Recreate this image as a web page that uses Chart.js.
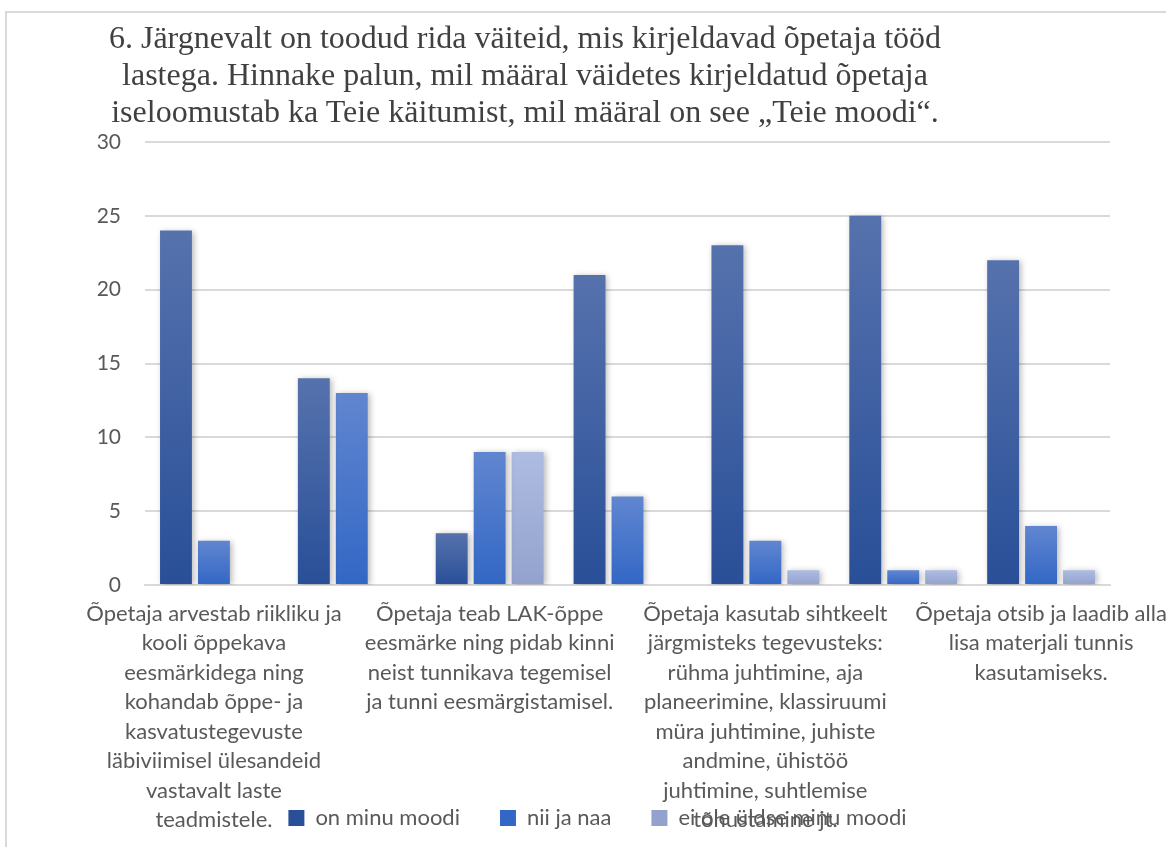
<!DOCTYPE html>
<html>
<head>
<meta charset="utf-8">
<script src="https://cdn.jsdelivr.net/npm/chart.js@4.4.1/dist/chart.umd.min.js"></script>
<style>
  html, body { margin: 0; padding: 0; background: #fff; }
  #wrap { position: relative; width: 1166px; height: 847px; overflow: hidden; }
  #frame { position: absolute; left: 5px; top: 11px; width: 1300px; height: 900px;
           border-left: 2px solid #D9D9D9; border-top: 2px solid #D9D9D9; }
  #title { position: absolute; left: 0; top: 19px; width: 1050px; text-align: center;
           font-family: "Liberation Serif", serif; font-size: 32px; line-height: 37px; color: #404040; }
  canvas { position: absolute; left: 0; top: 0; }
</style>
</head>
<body>
<div id="wrap">
  <div id="frame"></div>
  <canvas id="charts" width="1166" height="847"></canvas>
  <div id="title">6. Järgnevalt on toodud rida väiteid, mis kirjeldavad õpetaja tööd<br>lastega. Hinnake palun, mil määral väidetes kirjeldatud õpetaja<br>iseloomustab ka Teie käitumist, mil määral on see „Teie moodi“.</div>
</div>
<script>
// categories (only every other label is readable in the picture)
const categories = [
  ['Õpetaja arvestab riikliku ja', 'kooli õppekava', 'eesmärkidega ning', 'kohandab õppe- ja',
   'kasvatustegevuste', 'läbiviimisel ülesandeid', 'vastavalt laste', 'teadmistele.'],
  '',
  ['Õpetaja teab LAK-õppe', 'eesmärke ning pidab kinni', 'neist tunnikava tegemisel', 'ja tunni eesmärgistamisel.'],
  '',
  ['Õpetaja kasutab sihtkeelt', 'järgmisteks tegevusteks:', 'rühma juhtimine, aja', 'planeerimine, klassiruumi',
   'müra juhtimine, juhiste', 'andmine, ühistöö', 'juhtimine, suhtlemise', 'tõhustamine jt.'],
  '',
  ['Õpetaja otsib ja laadib alla', 'lisa materjali tunnis', 'kasutamiseks.']
];

// series
const onMinuMoodi = [24, 14, 3.5, 21, 23, 25, 22];
const niiJaNaa    = [3, 13, 9, 6, 3, 1, 4];
const eiOleYldse  = [0, 0, 9, 0, 1, 1, 1];

const seriesNames = ['on minu moodi', 'nii ja naa', 'ei ole üldse minu moodi'];

// y ticks
const yMin = 0, yMax = 30, yStep = 5;

const textColor = '#595959';
const gridColor = '#D9D9D9';

// top / bottom colours of each bar gradient
const shades = [
  ['#5672AD', '#294F98'],
  ['#6186D0', '#3267C5'],
  ['#AEBCE2', '#93A2CD']
];

function barFill(i) {
  return function (ctx) {
    const chart = ctx.chart;
    if (!chart.chartArea || ctx.dataIndex === undefined) return shades[i][1];
    const y = chart.scales.y;
    const v = ctx.dataset.data[ctx.dataIndex];
    const top = y.getPixelForValue(v);
    const bottom = y.getPixelForValue(0);
    if (bottom - top < 1) return shades[i][1];
    const g = chart.ctx.createLinearGradient(0, top, 0, bottom);
    g.addColorStop(0, shades[i][0]);
    g.addColorStop(1, shades[i][1]);
    return g;
  };
}

// soft shadow behind the bars
const barShadow = {
  id: 'barShadow',
  beforeDatasetsDraw(chart) {
    const c = chart.ctx;
    c.save();
    c.shadowColor = 'rgba(0,0,0,0.28)';
    c.shadowBlur = 6;
    c.shadowOffsetX = 2;
    c.shadowOffsetY = 1;
  },
  afterDatasetsDraw(chart) {
    chart.ctx.restore();
  }
};

// the long category labels run down into the legend, like in the original
const labelOverflow = {
  id: 'labelOverflow',
  afterLayout(chart) {
    chart.scales.x.bottom = chart.height;
  }
};

const allSeries = [onMinuMoodi, niiJaNaa, eiOleYldse];

new Chart(document.getElementById('charts').getContext('2d'), {
  type: 'bar',
  data: {
    labels: categories,
    datasets: allSeries.map((d, i) => ({
      label: seriesNames[i],
      data: d,
      backgroundColor: barFill(i),
      borderWidth: 0,
      categoryPercentage: 0.826,
      barPercentage: 0.84
    }))
  },
  plugins: [barShadow, labelOverflow],
  options: {
    responsive: false,
    animation: false,
    layout: { padding: { left: 85, right: 56, top: 142, bottom: 8 } },
    plugins: {
      title: { display: false },
      tooltip: { enabled: false },
      legend: {
        position: 'bottom',
        labels: {
          color: textColor,
          font: { family: 'Lato', size: 22 },
          boxWidth: 16,
          boxHeight: 16,
          padding: 40
        }
      }
    },
    scales: {
      x: {
        grid: { display: false, drawTicks: false },
        border: { display: true, color: gridColor, width: 2 },
        ticks: {
          color: textColor,
          font: { family: 'Lato', size: 22, lineHeight: 1.34 },
          maxRotation: 0,
          autoSkip: false,
          padding: 14
        },
        afterFit(scale) {
          scale.height = 182;
          scale.paddingLeft = 0;
          scale.paddingRight = 0;
        }
      },
      y: {
        min: yMin,
        max: yMax,
        grid: { color: gridColor, lineWidth: 2, drawTicks: false },
        border: { display: false },
        ticks: {
          stepSize: yStep,
          color: textColor,
          font: { family: 'Lato', size: 21 },
          padding: 24
        },
        afterFit(scale) {
          scale.width = 60;
          scale.paddingTop = 0;
          scale.paddingBottom = 0;
        }
      }
    }
  }
});
</script>
</body>
</html>
